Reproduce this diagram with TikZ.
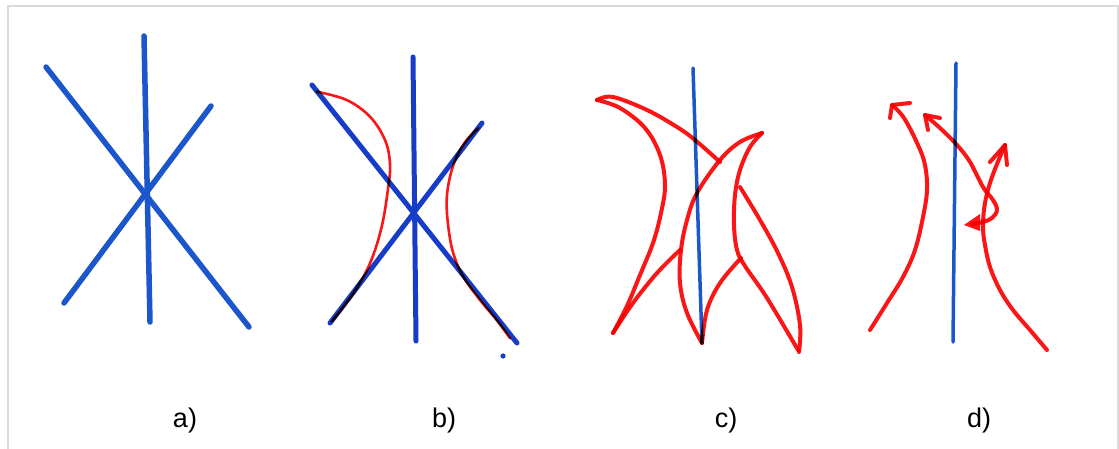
\documentclass[tikz,border=0pt]{standalone}
\usepackage{fontspec}
\setmainfont{Liberation Sans}
\definecolor{penblue}{RGB}{28,86,204}
\definecolor{penblueb}{RGB}{22,60,200}
\definecolor{penred}{RGB}{250,22,22}
\definecolor{framegray}{RGB}{218,218,218}
\tikzset{
  bluepen/.style={draw=penblue, line width=5.5pt, line cap=round},
  bluepenb/.style={draw=penblueb, line width=5pt, line cap=round},
  thinblue/.style={draw=penblue, line width=3.5pt, line cap=round},
  redthin/.style={draw=penred, line width=2.6pt, line cap=round, line join=round, blend mode=multiply},
  redpen/.style={draw=penred, line width=4pt, line cap=round, line join=round, blend mode=multiply},
  caption/.style={anchor=base, font=\fontsize{27}{31}\selectfont, text=black, inner sep=0pt}
}
\begin{document}
\begin{tikzpicture}[x=1pt,y=-1pt]
\useasboundingbox (0,0) rectangle (1119,448);
\fill[white] (0,0) rectangle (1119,448);
\draw[framegray, line width=2.5pt] (8,449) -- (8,6) -- (1118,6) -- (1118,449);

% ---------- a) ----------
\coordinate (a1t) at (144,36);  \coordinate (a1b) at (150,322);
\coordinate (a2t) at (46,67);   \coordinate (a2b) at (249,327);
\coordinate (a3t) at (211,106); \coordinate (a3b) at (64,303);
\draw[bluepen] (a2t) -- (a2b);
\draw[bluepen] (a3t) -- (a3b);
\draw[bluepen] (a1t) -- (a1b);
\node[caption] (la) at (185,427) {a)};

% ---------- b) ----------
\coordinate (b1t) at (413,57);  \coordinate (b1b) at (416,341);
\coordinate (b2t) at (312,85);  \coordinate (b2b) at (517,343);
\coordinate (b3t) at (482,123); \coordinate (b3b) at (330,323);
\draw[bluepenb] (b2t) -- (b2b);
\draw[bluepenb] (b3t) -- (b3b);
\draw[bluepenb] (b1t) -- (b1b);
\fill[penblueb] (503,356) circle (2.6);
\draw[redthin] plot[smooth, tension=0.6] coordinates {(316.7,91.7) (346.7,100) (370,116.7) (385,140) (390,163.3) (388.3,186.7) (381.7,226.7) (370,263.3) (353.3,293.3) (331.7,321.7)};
\draw[redthin] plot[smooth, tension=0.6] coordinates {(478.3,128.3) (466.7,140) (456.7,156.7) (450,176.7) (446.7,200) (448.3,226.7) (453.3,253.3) (463.3,276.7) (480,300) (496.7,320) (510,338.3)};
\node[caption] (lb) at (444,427) {b)};

% ---------- c) ----------
\coordinate (c1t) at (693,68); \coordinate (c1b) at (702,343);
\draw[thinblue] (c1t) -- (c1b);
\draw[redpen] plot[smooth, tension=0.6] coordinates {(597,100) (620,108) (645,128) (660,155) (665,185) (661,213) (653,243) (640,275) (627,306) (613,333)};
\draw[redpen] plot[smooth, tension=0.6] coordinates {(597,100) (613,97) (647,110) (677,127) (695,140) (720,162)};
\draw[redpen] plot[smooth, tension=0.6] coordinates {(613,333) (633,303) (657,273) (680,250)};
\draw[redpen] plot[smooth, tension=0.6] coordinates {(762,133) (740,142) (720,160) (697,193) (687,220) (681,250) (680,283) (687,313) (702,343)};
\draw[redpen] plot[smooth, tension=0.6] coordinates {(702,343) (707,310) (720,283) (741,258)};
\draw[redpen] plot[smooth, tension=0.6] coordinates {(762,133) (750,147) (740,170) (735,195) (734,225) (737,250) (745,266) (767,298) (798,350)};
\draw[redpen] plot[smooth, tension=0.6] coordinates {(740,187) (760,220) (778,253) (792,287) (800,325) (799,352)};
\node[caption] (lc) at (726,427) {c)};

% ---------- d) ----------
\coordinate (d1t) at (956,63); \coordinate (d1b) at (953,342);
\draw[thinblue] (d1t) -- (d1b);
% left curve with open head
\draw[redpen] plot[smooth, tension=0.6] coordinates {(870,330) (887,303) (903,277) (915,250) (923,217) (927,190) (925,165) (918,145) (904,118) (892,105)};
\draw[redpen] (890,118) -- (892,105) -- (910,103);
% middle curve with two heads
\draw[redpen] plot[smooth, tension=0.6] coordinates {(925,115) (940,128) (957,145) (970,162) (983,187) (993,200) (997,210) (992,218) (983,222) (972,224)};
\draw[redpen] (928,130) -- (925,115) -- (940,118);
\fill[penred, blend mode=multiply] (964,225) -- (980,214) -- (980,231) -- cycle;
% right rising curve with open head
\draw[redpen] plot[smooth, tension=0.6] coordinates {(1047,350) (1030,330) (1013,310) (1000,290) (990,267) (985,245) (983,227) (985,203) (992,177) (1005,145)};
\draw[redpen] (990,162) -- (1005,145) -- (1007,165);
\node[caption] (ld) at (979,427) {d)};
\end{tikzpicture}
\end{document}
